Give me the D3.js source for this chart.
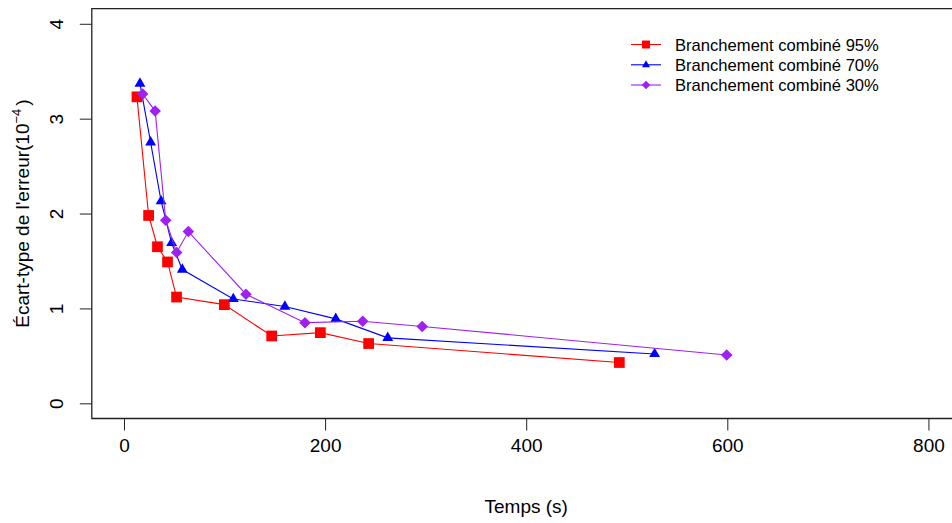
<!DOCTYPE html>
<html>
<head>
<meta charset="utf-8">
<script src="https://cdn.jsdelivr.net/npm/d3@7"></script>
<style>
  body { margin: 0; background: #fff; }
  text { font-family: "Liberation Sans", Arial, sans-serif; fill: #000; }
</style>
</head>
<body>
<div id="chart"></div>
<script>
const WIDTH = 952;
const HEIGHT = 523;

// temps (s) / ecart-type (1e-4)
const seriesNames = ['Branchement combiné 95%', 'Branchement combiné 70%', 'Branchement combiné 30%'];
const seriesColors = ['#ff0000', '#0000ff', '#a020f0'];
const seriesShapes = ['square', 'triangle', 'diamond'];

const temps95 = [12.9, 24.5, 33.3, 43.3, 52.3, 99.8, 146.9, 195.3, 243.3, 492.6];
const ecart95 = [3.23, 1.98, 1.65, 1.49, 1.12, 1.04, 0.71, 0.745, 0.63, 0.43];

const temps70 = [15.9, 26.5, 36.9, 47.4, 58, 108.7, 160, 210.6, 262.3, 527.7];
const ecart70 = [3.37, 2.75, 2.13, 1.69, 1.41, 1.1, 1.02, 0.89, 0.69, 0.52];

const temps30 = [18.6, 31, 41.5, 52.4, 64, 121.3, 180, 237.4, 296.6, 599.4];
const ecart30 = [3.26, 3.08, 1.93, 1.59, 1.81, 1.15, 0.85, 0.865, 0.81, 0.51];

const xTicks = [0, 200, 400, 600, 800];
const yTicks = [0, 1, 2, 3, 4];

const series = [
  { temps: temps95, ecart: ecart95 },
  { temps: temps70, ecart: ecart70 },
  { temps: temps30, ecart: ecart30 },
];

const svg = d3.select('#chart')
  .append('svg')
  .attr('width', WIDTH)
  .attr('height', HEIGHT)

// plot region like R: xlim 0..800, ylim 0..4 with 4% extension
const x = d3.scaleLinear().domain([-32, 832]).range([91.8, 960.6]);
const y = d3.scaleLinear().domain([-0.16, 4.16]).range([418.5, 8.6]);

const symbols = {
  square: d3.symbolSquare,
  triangle: d3.symbolTriangle2,
  diamond: d3.symbolDiamond2,
}
const symbolSizes = { square: 115, triangle: 85, diamond: 85 };

// box
svg.append('path')
  .attr('d', `M${x.range()[1] + 5},${y.range()[1]} H${x.range()[0]} V${y.range()[0]} H${x.range()[1] + 5}`)
  .attr('fill', 'none')
  .attr('stroke', '#222')
  .attr('stroke-width', 1.3)

// x axis
const xAxis = svg.append('g')
  .attr('transform', `translate(0,${y.range()[0]})`)
  .call(d3.axisBottom(x).tickValues(xTicks).tickSize(12).tickPadding(8).tickFormat(d3.format('d')))
xAxis.select('.domain').remove()
xAxis.selectAll('line').attr('stroke', '#222')
xAxis.selectAll('text').style('font-size', '19px').attr('fill', '#000')

// y axis, labels vertical
const yAxis = svg.append('g')
  .attr('transform', `translate(${x.range()[0]},0)`)
  .call(d3.axisLeft(y).tickValues(yTicks).tickSize(12).tickFormat(d3.format('d')))
yAxis.select('.domain').remove()
yAxis.selectAll('line').attr('stroke', '#222')
yAxis.selectAll('text')
  .style('font-size', '19px')
  .attr('fill', '#000')
  .attr('text-anchor', 'middle')
  .attr('transform', 'rotate(-90)')
  .attr('x', 0)
  .attr('y', -29)
  .attr('dy', 0)

// titles
svg.append('text')
  .attr('x', (x.range()[0] + x.range()[1]) / 2)
  .attr('y', 513)
  .attr('text-anchor', 'middle')
  .style('font-size', '19px')
  .text('Temps (s)')

const yLabel = svg.append('text')
  .attr('transform', `translate(28.5,${(y.range()[0] + y.range()[1]) / 2}) rotate(-90)`)
  .attr('text-anchor', 'middle')
  .style('font-size', '19px')
yLabel.append('tspan').text("Écart-type de l'erreur(10")
yLabel.append('tspan').attr('dy', -8).style('font-size', '13px').text('−4')
yLabel.append('tspan').attr('dy', 8).attr('dx', 3).text(')')

// lines and points
const line = d3.line().x(d => x(d[0])).y(d => y(d[1]))

series.forEach((s, i) => {
  const pts = s.temps.map((t, j) => [t, s.ecart[j]])
  const g = svg.append('g')

  g.append('path')
    .datum(pts)
    .attr('d', line)
    .attr('fill', 'none')
    .attr('stroke', seriesColors[i])
    .attr('stroke-width', 1.1)

  g.selectAll('path.pt')
    .data(pts)
    .join('path')
    .attr('class', 'pt')
    .attr('transform', d => `translate(${x(d[0])},${y(d[1])})`)
    .attr('d', d3.symbol().type(symbols[seriesShapes[i]]).size(symbolSizes[seriesShapes[i]]))
    .attr('fill', seriesColors[i])
})

// legend (no border)
const legendRows = [44.5, 64.8, 85];
const legend = svg.append('g')
seriesNames.forEach((name, i) => {
  const row = legend.append('g').attr('transform', `translate(0,${legendRows[i]})`)
  row.append('line')
    .attr('x1', 631).attr('x2', 661)
    .attr('stroke', seriesColors[i])
    .attr('stroke-width', 1.1)
  row.append('path')
    .attr('transform', 'translate(646,0)')
    .attr('d', d3.symbol().type(symbols[seriesShapes[i]]).size(symbolSizes[seriesShapes[i]] * 0.55))
    .attr('fill', seriesColors[i])
  row.append('text')
    .attr('x', 675)
    .attr('y', 6)
    .style('font-size', '16.6px')
    .attr('fill', '#222')
    .text(name)
})
</script>
</body>
</html>
